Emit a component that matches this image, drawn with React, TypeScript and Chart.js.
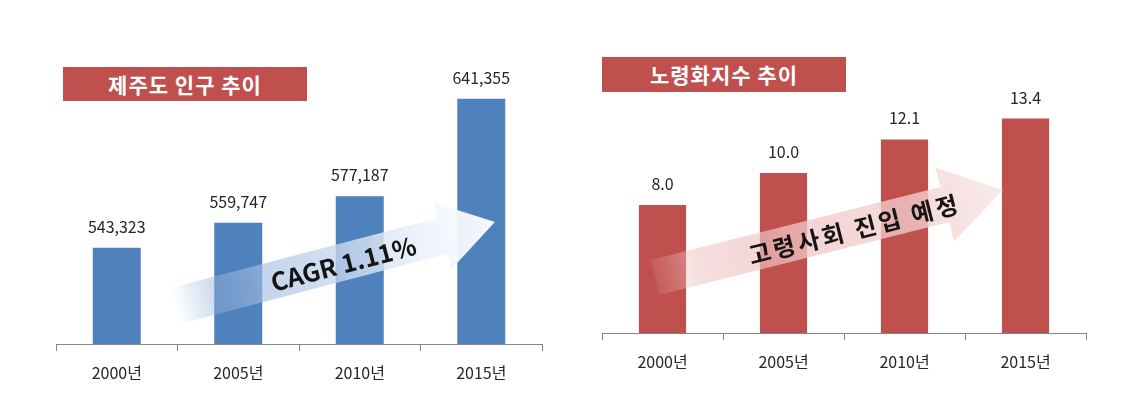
import React, { useEffect, useRef } from "react";
import { Chart, registerables } from "chart.js";

Chart.register(...registerables);

// ---------- data ----------
const years = ["2000년", "2005년", "2010년", "2015년"];
const population = [543323, 559747, 577187, 641355];
const agingIndex = [8.0, 10.0, 12.1, 13.4];
const popTitle = "제주도 인구 추이";
const agingTitle = "노령화지수 추이";
const popArrowText = "CAGR 1.11%";
const agingArrowText = "고령사회 진입 예정";

const FONT = '"Noto Sans CJK KR", "Noto Sans", sans-serif';
const BLUE = "#4F81BD";
const RED = "#C0504D";
const AXIS = "#868686";
const TEXT = "#262626";

type ArrowSpec = {
  x0: number;
  y0: number;
  x1: number;
  y1: number;
  shaftHalf: number;
  headHalf: number;
  headLen: number;
  stops: [number, string][];
  text: string;
  font: string;
  letterSpacing: string;
  textAt: number;
  textOffset: number;
};

function arrowPlugin(spec: ArrowSpec) {
  return {
    id: "trendArrow",
    afterDatasetsDraw(chart: any) {
      const { ctx, chartArea: a } = chart;
      const w = a.right - a.left;
      const h = a.bottom - a.top;
      const sx = a.left + spec.x0 * w;
      const sy = a.top + spec.y0 * h;
      const ex = a.left + spec.x1 * w;
      const ey = a.top + spec.y1 * h;
      const ang = Math.atan2(ey - sy, ex - sx);
      const len = Math.hypot(ex - sx, ey - sy);
      ctx.save();
      ctx.translate(sx, sy);
      ctx.rotate(ang);
      const g = ctx.createLinearGradient(0, 0, len, 0);
      spec.stops.forEach(([p, c]) => g.addColorStop(p, c));
      ctx.beginPath();
      ctx.moveTo(0, -spec.shaftHalf);
      ctx.lineTo(len - spec.headLen, -spec.shaftHalf);
      ctx.lineTo(len - spec.headLen, -spec.headHalf);
      ctx.lineTo(len, 0);
      ctx.lineTo(len - spec.headLen, spec.headHalf);
      ctx.lineTo(len - spec.headLen, spec.shaftHalf);
      ctx.lineTo(0, spec.shaftHalf);
      ctx.closePath();
      ctx.fillStyle = g;
      ctx.fill();
      ctx.font = spec.font;
      try {
        (ctx as any).letterSpacing = spec.letterSpacing;
      } catch (e) {}
      ctx.fillStyle = "#141414";
      ctx.textAlign = "center";
      ctx.textBaseline = "middle";
      ctx.fillText(spec.text, spec.textAt * len, spec.textOffset);
      ctx.restore();
    },
  };
}

function valueLabelPlugin(fmt: (v: number) => string) {
  return {
    id: "valueLabels",
    afterDatasetsDraw(chart: any) {
      const { ctx } = chart;
      const meta = chart.getDatasetMeta(0);
      const vals = chart.data.datasets[0].data as number[];
      ctx.save();
      ctx.font = `16px ${FONT}`;
      ctx.fillStyle = TEXT;
      ctx.textAlign = "center";
      ctx.textBaseline = "middle";
      meta.data.forEach((bar: any, i: number) => {
        ctx.fillText(fmt(vals[i]), bar.x, bar.y - 21);
      });
      ctx.restore();
    },
  };
}

function makeConfig(
  values: number[],
  color: string,
  barPct: number,
  padding: { left: number; right: number; top: number; bottom: number },
  axisHeight: number,
  yMin: number,
  yMax: number,
  plugins: any[]
): any {
  return {
    type: "bar",
    data: {
      labels: years,
      datasets: [
        {
          data: values,
          backgroundColor: color,
          borderWidth: 0,
          barPercentage: barPct,
          categoryPercentage: 1,
        },
      ],
    },
    options: {
      animation: false,
      responsive: false,
      devicePixelRatio: 1,
      layout: { padding },
      plugins: {
        legend: { display: false },
        tooltip: { enabled: false },
        title: { display: false },
      },
      scales: {
        x: {
          grid: {
            display: true,
            offset: true,
            drawOnChartArea: false,
            drawTicks: true,
            tickLength: 7,
            color: AXIS,
            lineWidth: 1,
          },
          border: { display: true, color: AXIS, width: 1 },
          ticks: {
            padding: 12,
            color: TEXT,
            maxRotation: 0,
            font: { size: 16, family: FONT },
          },
          afterFit: (s: any) => {
            s.height = axisHeight;
          },
        },
        y: { display: false, min: yMin, max: yMax },
      },
    },
    plugins,
  };
}

const popArrow: ArrowSpec = {
  x0: 0.245,
  y0: 0.875,
  x1: 0.903,
  y1: 0.599,
  shaftHalf: 18.5,
  headHalf: 34.5,
  headLen: 54,
  stops: [
    [0, "rgba(150,180,220,0)"],
    [0.12, "rgba(150,178,218,0.45)"],
    [0.25, "rgba(160,186,222,0.62)"],
    [0.55, "rgba(205,220,240,0.8)"],
    [0.8, "rgba(240,245,252,0.92)"],
    [1, "rgba(252,253,255,0.97)"],
  ],
  text: popArrowText,
  font: `bold 25px ${FONT}`,
  letterSpacing: "0px",
  textAt: 0.525,
  textOffset: 2,
};

const agingArrow: ArrowSpec = {
  x0: 0.1095,
  y0: 0.783,
  x1: 0.8285,
  y1: 0.441,
  shaftHalf: 18,
  headHalf: 38,
  headLen: 60,
  stops: [
    [0, "rgba(240,200,200,0.1)"],
    [0.12, "rgba(238,190,190,0.5)"],
    [0.4, "rgba(240,198,198,0.75)"],
    [0.75, "rgba(242,208,208,0.78)"],
    [1, "rgba(247,228,228,0.75)"],
  ],
  text: agingArrowText,
  font: `bold 24px ${FONT}`,
  letterSpacing: "3px",
  textAt: 0.572,
  textOffset: 2,
};

function BarPanel(props: {
  left: number;
  width: number;
  config: any;
}) {
  const ref = useRef<HTMLCanvasElement | null>(null);
  useEffect(() => {
    if (!ref.current) return;
    const chart = new Chart(ref.current, props.config);
    return () => chart.destroy();
  }, []);
  return (
    <canvas
      ref={ref}
      width={props.width}
      height={410}
      style={{
        position: "absolute",
        left: props.left,
        top: 0,
        width: props.width,
        height: 410,
      }}
    />
  );
}

const titleStyle = (left: number, top: number, height: number): React.CSSProperties => ({
  position: "absolute",
  left,
  top,
  width: 244,
  height,
  background: RED,
  color: "#ffffff",
  fontFamily: FONT,
  fontWeight: 700,
  fontSize: 21,
  letterSpacing: "1px",
  lineHeight: `${height}px`,
  textAlign: "center",
  zIndex: 2,
});

export default function App() {
  const popConfig = makeConfig(
    population,
    BLUE,
    0.395,
    { left: 56, right: 26, top: 40, bottom: 0 },
    66,
    480000,
    680000,
    [arrowPlugin(popArrow), valueLabelPlugin((v) => v.toLocaleString("en-US"))]
  );
  const agingConfig = makeConfig(
    agingIndex,
    RED,
    0.39,
    { left: 34, right: 51, top: 77, bottom: 0 },
    77,
    0,
    16,
    [arrowPlugin(agingArrow), valueLabelPlugin((v) => v.toFixed(1))]
  );
  return (
    <div
      style={{
        position: "absolute",
        left: 0,
        top: 0,
        width: 1137,
        height: 410,
        background: "#ffffff",
        overflow: "hidden",
      }}
    >
      <BarPanel left={0} width={568} config={popConfig} />
      <BarPanel left={568} width={569} config={agingConfig} />
      <div style={titleStyle(63, 67, 34)}>{popTitle}</div>
      <div style={titleStyle(602, 57, 35)}>{agingTitle}</div>
    </div>
  );
}
